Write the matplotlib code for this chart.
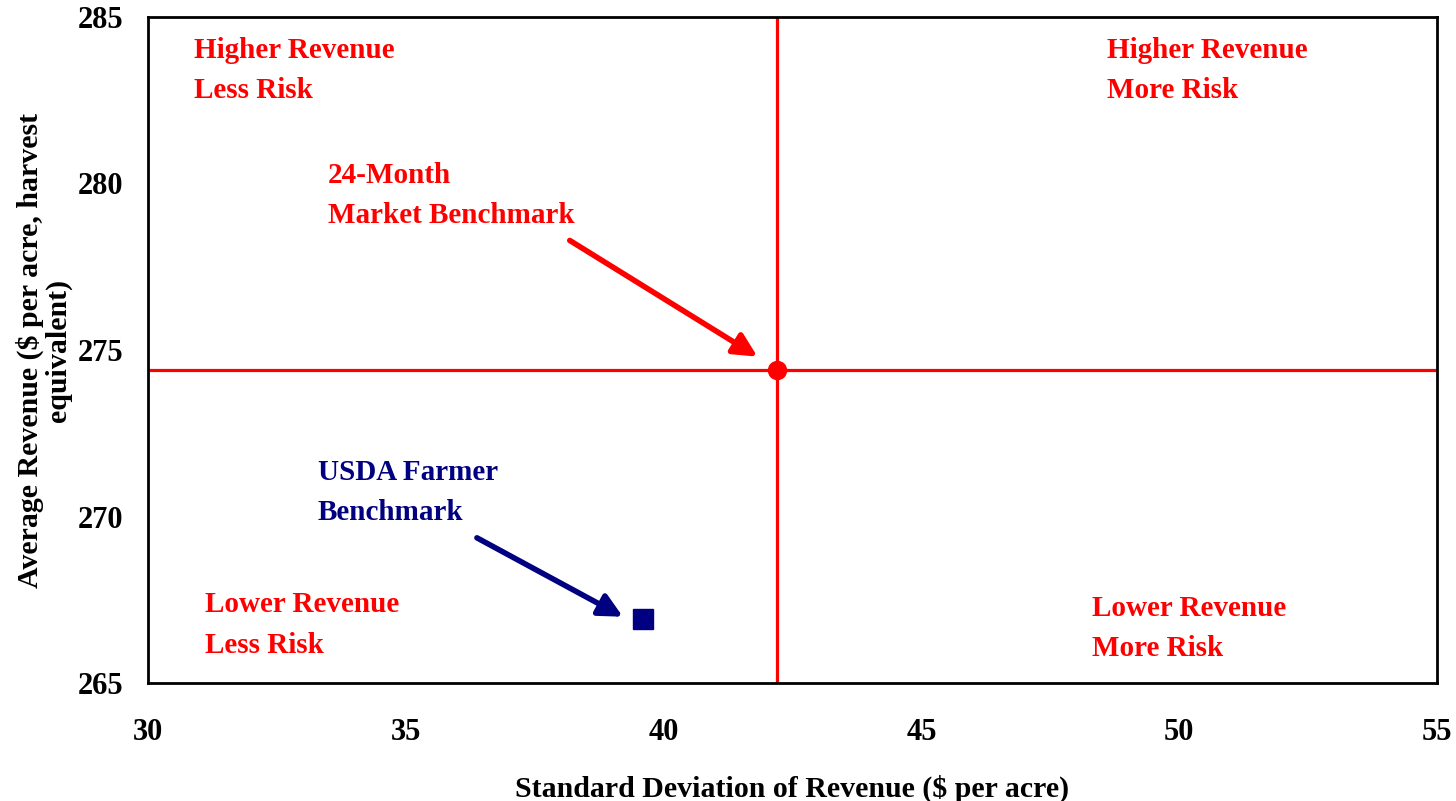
import matplotlib
matplotlib.use('Agg')
import matplotlib.pyplot as plt

plt.rcParams['font.family'] = ['Liberation Serif', 'DejaVu Serif']
plt.rcParams['font.weight'] = 'bold'

# benchmark points (std dev, average revenue)
market_sd, market_rev = 42.19, 274.41
usda_sd, usda_rev = 39.61, 266.92

x_ticks = [30, 35, 40, 45, 50, 55]
y_ticks = [265, 270, 275, 280, 285]

quadrant_labels = [
    (30.9, 284.4, 'Higher Revenue\nLess Risk'),
    (48.6, 284.4, 'Higher Revenue\nMore Risk'),
    (31.1, 267.75, 'Lower Revenue\nLess Risk'),
    (48.3, 267.65, 'Lower Revenue\nMore Risk'),
]

red = '#FF0000'
navy = '#000080'
fs = 21

fig = plt.figure(figsize=(14.56, 8.01), dpi=100)
ax = fig.add_axes([0.1016, 0.1473, 0.8854, 0.8315])

ax.axvline(market_sd, color=red, lw=2.3, zorder=2)
ax.axhline(market_rev, color=red, lw=2.3, zorder=2)
ax.plot([market_sd], [market_rev], 'o', color=red, ms=13, zorder=3)
ax.plot([usda_sd], [usda_rev], 's', color=navy, ms=14, zorder=3)

for x, y, s in quadrant_labels:
    ax.text(x, y, s, color=red, fontsize=fs, fontweight='bold', va='top', ha='left',
            linespacing=1.63)

ax.text(33.49, 280.65, '24-Month\nMarket Benchmark', color=red, fontsize=fs,
        fontweight='bold', va='top', ha='left', linespacing=1.63)
ax.text(33.29, 271.72, 'USDA Farmer\nBenchmark', color=navy, fontsize=fs,
        fontweight='bold', va='top', ha='left', linespacing=1.63)

arrow_style = '-|>,head_length=1.4,head_width=0.7'
ax.annotate('', xy=(41.82, 274.8), xytext=(38.18, 278.29),
            arrowprops=dict(arrowstyle=arrow_style, color=red, lw=4,
                            shrinkA=0, shrinkB=0))
ax.annotate('', xy=(39.21, 266.99), xytext=(36.38, 269.36),
            arrowprops=dict(arrowstyle=arrow_style, color=navy, lw=4,
                            shrinkA=0, shrinkB=0))

ax.set_xlim(30, 55)
ax.set_ylim(265, 285)
ax.set_xticks(x_ticks)
ax.set_yticks(y_ticks)
ax.tick_params(axis='both', length=0, labelsize=22)
ax.tick_params(axis='x', pad=25)
ax.tick_params(axis='y', pad=18)
for lab in ax.get_xticklabels() + ax.get_yticklabels():
    lab.set_fontweight('bold')
for sp in ax.spines.values():
    sp.set_linewidth(2)

ax.set_xlabel('Standard Deviation of Revenue ($ per acre)', fontsize=21.5,
              fontweight='bold', labelpad=20)
ax.set_ylabel('Average Revenue ($ per acre, harvest\nequivalent)', fontsize=21.5,
              fontweight='bold', labelpad=4, linespacing=1.0)

fig.savefig('out.png', dpi=100)
